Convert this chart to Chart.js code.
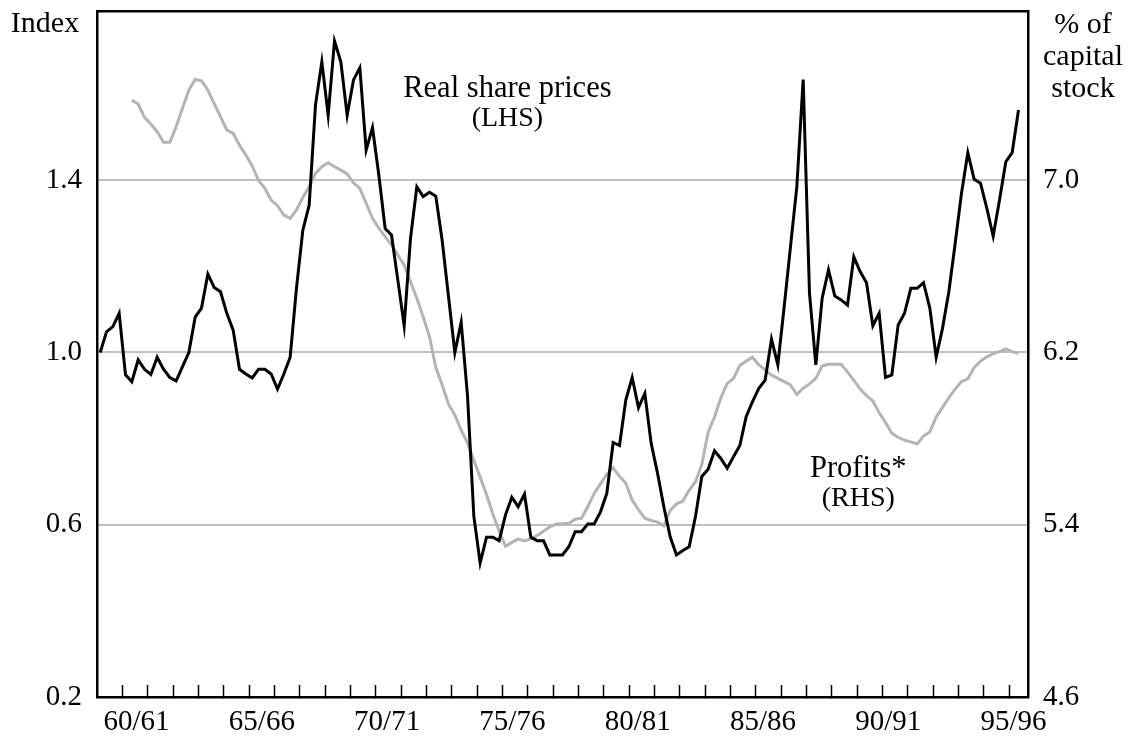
<!DOCTYPE html>
<html>
<head>
  <meta charset="UTF-8">
  <title>Real share prices and profits</title>
  <!-- Chart.js from CDN -->
  <script src="https://cdn.jsdelivr.net/npm/chart.js"></script>
  <style>
    body { margin: 0; background: #fff; }
  </style>
</head>
<body>
  <canvas id="chart" width="1131" height="743"></canvas>

  <script>
    // Quarterly data, quarter 0 = September quarter 1959 (first quarter of 59/60)
    const yearLabels = ['60/61', '65/66', '70/71', '75/76', '80/81', '85/86', '90/91', '95/96'];

    // Real share prices, index (LHS), from quarter 0
    const shareStart = 0;
    const realSharePrices = [
      1.00, 1.048, 1.06, 1.091, 0.948, 0.932, 0.983, 0.961, 0.949, 0.989,
      0.961, 0.942, 0.934, 0.967, 1.00, 1.082, 1.103, 1.182, 1.151, 1.141,
      1.091, 1.052, 0.961, 0.950, 0.941, 0.961, 0.961, 0.950, 0.915, 0.950,
      0.989, 1.15, 1.284, 1.342, 1.575, 1.675, 1.551, 1.723, 1.675, 1.551,
      1.633, 1.661, 1.47, 1.522, 1.412, 1.288, 1.273, 1.168, 1.062, 1.265,
      1.385, 1.362, 1.372, 1.363, 1.26, 1.13, 1.00, 1.07, 0.90, 0.62,
      0.511, 0.571, 0.571, 0.563, 0.623, 0.664, 0.642, 0.671, 0.571, 0.563,
      0.563, 0.530, 0.530, 0.530, 0.549, 0.584, 0.584, 0.602, 0.602, 0.630,
      0.673, 0.791, 0.784, 0.890, 0.942, 0.872, 0.905, 0.789, 0.720, 0.642,
      0.572, 0.530, 0.540, 0.549, 0.619, 0.712, 0.729, 0.772, 0.754, 0.731,
      0.758, 0.784, 0.851, 0.886, 0.917, 0.936, 1.031, 0.971, 1.106, 1.246,
      1.385, 1.634, 1.137, 0.971, 1.126, 1.192, 1.131, 1.122, 1.110, 1.222,
      1.188, 1.162, 1.062, 1.091, 0.942, 0.948, 1.064, 1.091, 1.149, 1.149,
      1.162, 1.103, 0.989, 1.056, 1.141, 1.253, 1.370, 1.464, 1.402, 1.393,
      1.335, 1.270, 1.354, 1.443, 1.464, 1.563
    ];

    // Profits, % of capital stock (RHS), from quarter 5
    const profitsStart = 5;
    const profits = [
      7.372, 7.354, 7.292, 7.261, 7.225,
      7.176, 7.176, 7.248, 7.334, 7.419, 7.468, 7.462, 7.419, 7.357, 7.295,
      7.233, 7.218, 7.163, 7.117, 7.067, 6.999, 6.962, 6.908, 6.882, 6.838,
      6.823, 6.862, 6.920, 6.970, 7.032, 7.063, 7.081, 7.063, 7.047, 7.029,
      6.988, 6.962, 6.893, 6.823, 6.777, 6.738, 6.699, 6.653, 6.606, 6.529,
      6.452, 6.366, 6.273, 6.13, 6.05, 5.96, 5.91, 5.84, 5.78, 5.70,
      5.62, 5.54, 5.45, 5.37, 5.30, 5.318, 5.333, 5.325, 5.335, 5.35,
      5.37, 5.39, 5.404, 5.405, 5.407, 5.426, 5.43, 5.485, 5.545, 5.59,
      5.635, 5.665, 5.625, 5.593, 5.515, 5.47, 5.43, 5.42, 5.412, 5.395,
      5.466, 5.497, 5.51, 5.56, 5.60, 5.68, 5.83, 5.90, 5.99, 6.055,
      6.08, 6.14, 6.16, 6.178, 6.142, 6.119, 6.095, 6.08, 6.065, 6.049,
      6.005, 6.034, 6.054, 6.08, 6.137, 6.145, 6.145, 6.145, 6.11, 6.07,
      6.03, 6.00, 5.975, 5.92, 5.875, 5.825, 5.805, 5.793, 5.785, 5.775,
      5.812, 5.832, 5.90, 5.945, 5.99, 6.03, 6.065, 6.078, 6.13, 6.16,
      6.18, 6.195, 6.204, 6.217, 6.204, 6.196
    ];

    const leftTicks = [0.2, 0.6, 1.0, 1.4];
    const rightTicks = [4.6, 5.4, 6.2, 7.0];

    const FONT = "'Liberation Serif', 'Times New Roman', serif";
    const tickFont = { family: FONT, size: 29 };

    function toPoints(values, start) {
      return values.map((v, i) => ({ x: start + i, y: v }));
    }

    // tick marks sit on the fiscal year boundaries, labels between them
    const boundaryTicks = [];
    for (let k = 0; k < 36; k++) boundaryTicks.push(3.5 + 4 * k);
    const labelTicks = yearLabels.map((l, i) => 5.75 + 19.78 * i);

    // no extra room for half-labels at the ends of the axes
    function noPadding(axis) {
      axis.paddingTop = 0;
      axis.paddingBottom = 0;
      axis.paddingLeft = 0;
      axis.paddingRight = 0;
    }

    // Text on the chart: axis units and series notes
    const textPlugin = {
      id: 'chartText',
      afterDraw(chart) {
        const ctx = chart.ctx;
        const { x, y, y1 } = chart.scales;
        ctx.save();
        ctx.fillStyle = '#000';
        ctx.textAlign = 'center';
        ctx.textBaseline = 'alphabetic';
        ctx.font = '30px ' + FONT;
        ctx.fillText('Index', 45, 32);
        ['% of', 'capital', 'stock'].forEach((t, i) => ctx.fillText(t, 1083, 33 + i * 32));

        const notes = [
          { lines: ['Real share prices', '(LHS)'], q: 64.3, v: 1.593, scale: y },
          { lines: ['Profits*', '(RHS)'], q: 119.7, v: 5.623, scale: y1 }
        ];
        notes.forEach(n => {
          const px = x.getPixelForValue(n.q);
          const py = n.scale.getPixelForValue(n.v);
          ctx.font = '30.5px ' + FONT;
          ctx.fillText(n.lines[0], px, py);
          ctx.font = '28px ' + FONT;
          ctx.fillText(n.lines[1], px, py + 29);
        });
        ctx.restore();
      }
    };

    new Chart(document.getElementById('chart'), {
      type: 'line',
      data: {
        datasets: [
          {
            label: 'Real share prices (LHS)',
            data: toPoints(realSharePrices, shareStart),
            yAxisID: 'y',
            borderColor: '#000',
            borderWidth: 3,
            pointRadius: 0,
            order: 1
          },
          {
            label: 'Profits* (RHS)',
            data: toPoints(profits, profitsStart),
            yAxisID: 'y1',
            borderColor: '#b4b4b4',
            borderWidth: 3,
            pointRadius: 0,
            order: 2
          }
        ]
      },
      options: {
        responsive: false,
        animation: false,
        devicePixelRatio: 1,
        layout: { padding: { top: 11, left: 0, right: 0, bottom: 0 } },
        plugins: { legend: { display: false }, tooltip: { enabled: false } },
        scales: {
          x: {
            type: 'linear',
            position: 'bottom',
            min: -0.5,
            max: 146.5,
            afterBuildTicks: axis => {
              axis.ticks = boundaryTicks.concat(labelTicks).map(v => ({ value: v }));
            },
            afterFit: axis => { axis.height = 46; noPadding(axis); },
            ticks: {
              autoSkip: false,
              maxRotation: 0,
              padding: 20,
              color: '#000',
              font: tickFont,
              callback: (v, i) => i >= boundaryTicks.length ? yearLabels[i - boundaryTicks.length] : ''
            },
            grid: {
              drawOnChartArea: false,
              drawTicks: true,
              tickLength: -12,
              tickWidth: 1.5,
              tickColor: ctx => ctx.index < boundaryTicks.length ? '#000' : 'rgba(0,0,0,0)'
            },
            border: { display: true, color: '#000', width: 2.5 }
          },
          xTop: {
            type: 'linear',
            position: 'top',
            min: -0.5,
            max: 146.5,
            afterFit: axis => { axis.height = 0; noPadding(axis); },
            ticks: { display: false },
            grid: { display: false, drawTicks: false },
            border: { display: true, color: '#000', width: 2.5 }
          },
          y: {
            position: 'left',
            min: 0.2,
            max: 1.793,
            afterBuildTicks: axis => { axis.ticks = leftTicks.map(v => ({ value: v })); },
            afterFit: axis => { axis.width = 97; noPadding(axis); },
            ticks: { padding: 15, color: '#000', font: tickFont, callback: v => v.toFixed(1) },
            grid: {
              drawTicks: false,
              lineWidth: 2,
              color: ctx => ctx.tick && ctx.tick.value > 0.21 ? '#c0c0c0' : 'rgba(0,0,0,0)'
            },
            border: { display: true, color: '#000', width: 2.5 }
          },
          y1: {
            position: 'right',
            min: 4.6,
            max: 7.786,
            afterBuildTicks: axis => { axis.ticks = rightTicks.map(v => ({ value: v })); },
            afterFit: axis => { axis.width = 103; noPadding(axis); },
            ticks: { padding: 15, color: '#000', font: tickFont, callback: v => v.toFixed(1) },
            grid: { drawOnChartArea: false, drawTicks: false },
            border: { display: true, color: '#000', width: 2.5 }
          }
        }
      },
      plugins: [textPlugin]
    });
  </script>
</body>
</html>
